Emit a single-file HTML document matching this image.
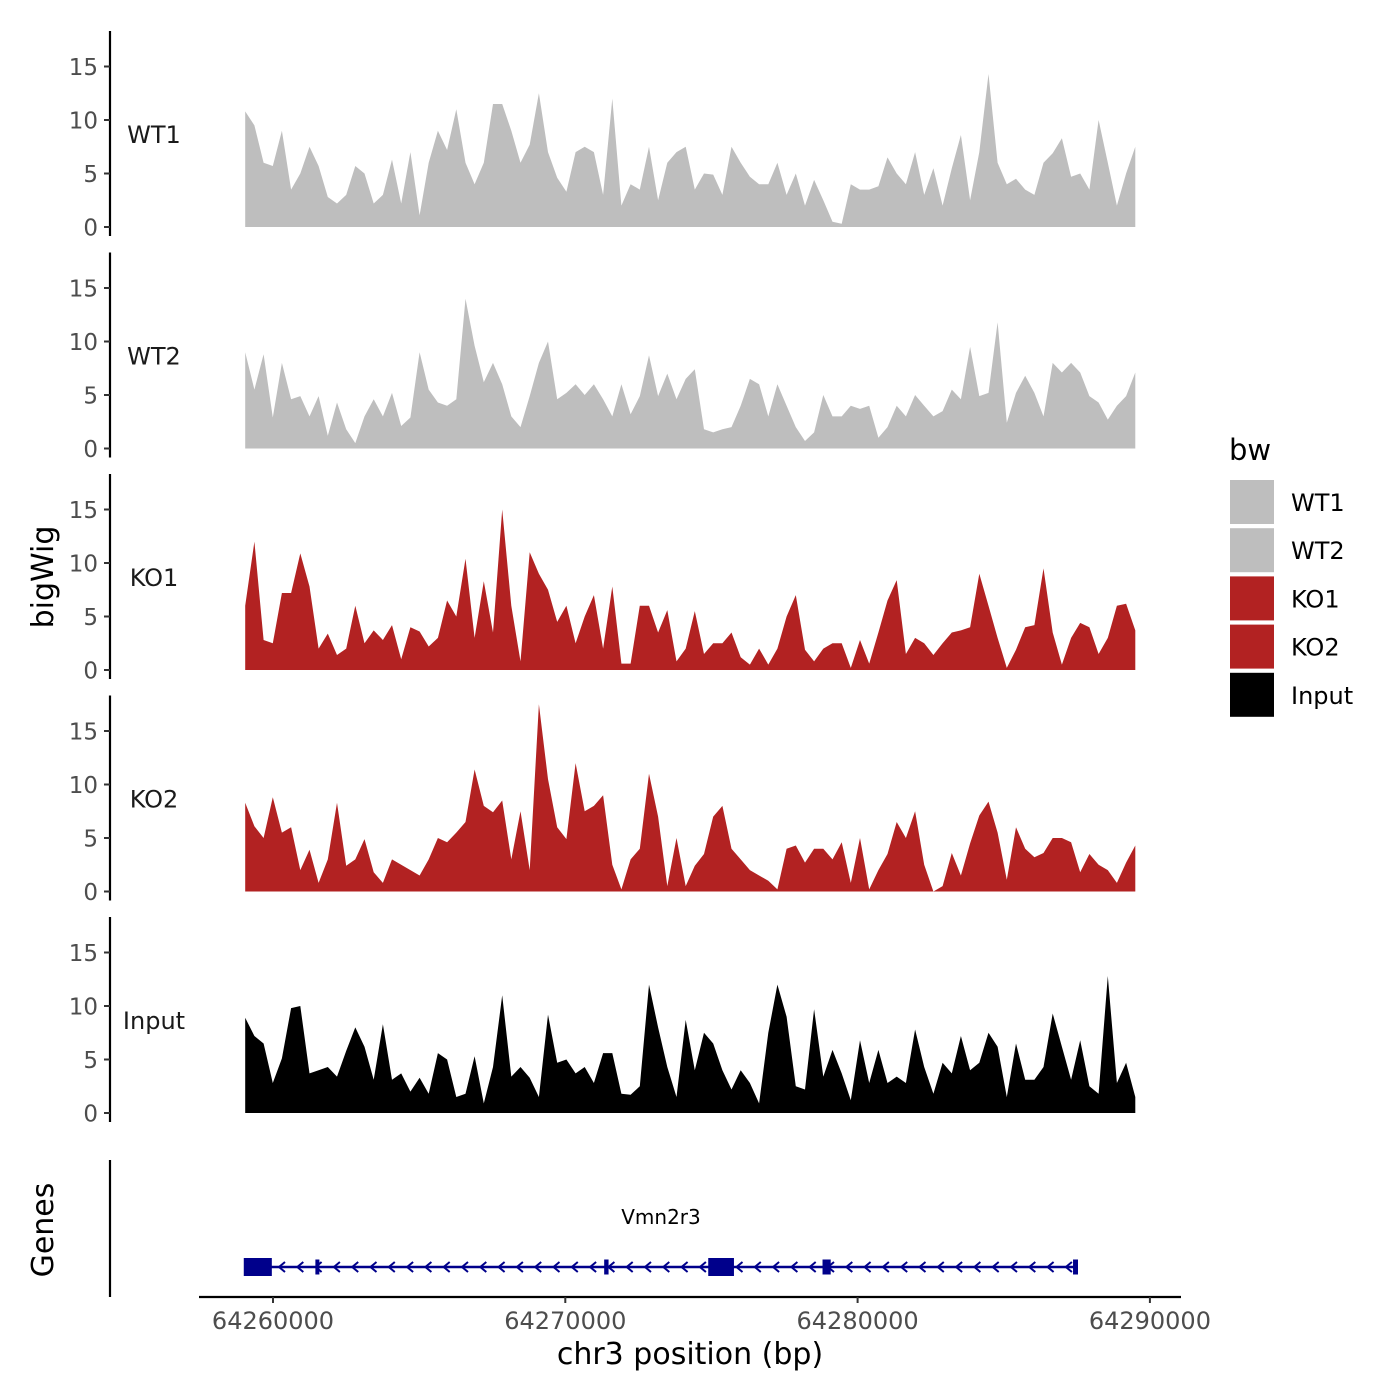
<!DOCTYPE html>
<html><head><meta charset="utf-8">
<style>
html,body{margin:0;padding:0;background:#fff;}
svg{display:block;font-family:"DejaVu Sans","Liberation Sans",sans-serif;}
</style></head>
<body>
<svg id="chart" width="1400" height="1400" viewBox="0 0 1400 1400" xmlns="http://www.w3.org/2000/svg">
<g id="tracks"></g>
<g id="genes"></g>
<g id="xaxis"></g>
<text x="0" y="0" transform="translate(53,577) rotate(-90)" text-anchor="middle" font-size="30" fill="#000">bigWig</text>
<text x="0" y="0" transform="translate(53,1230) rotate(-90)" text-anchor="middle" font-size="30" fill="#000">Genes</text>
<text x="690" y="1364" text-anchor="middle" font-size="30" fill="#000">chr3 position (bp)</text>
<g id="legend"></g>
</svg>
<script>
const trackNames = ["WT1","WT2","KO1","KO2","Input"];
const trackColors = ["#BEBEBE","#BEBEBE","#B22222","#B22222","#000000"];
const regionStart = 64259050;
const regionEnd = 64289500;
const yTicks = [0,5,10,15];
const xTicks = [64260000,64270000,64280000,64290000];
const xTickLabels = ["64260000","64270000","64280000","64290000"];
const wt1Values = [10.8,9.5,6,5.7,9,3.5,5,7.5,5.7,2.8,2.2,3,5.7,5,2.2,3,6.3,2.2,7,1.1,6,9,7.2,11,6,4,6,11.5,11.5,9,6,7.7,12.5,7,4.6,3.3,7,7.5,7,3,12,2,4,3.5,7.5,2.5,6,7,7.5,3.5,5,4.9,3,7.5,6,4.7,4,4,6,3,5,2,4.4,2.5,0.5,0.3,4,3.5,3.5,3.8,6.5,5,4,7,3,5.5,2,5.5,8.6,2.5,7,14.3,6,4,4.5,3.5,3,6,6.9,8.3,4.7,5,3.5,10,6,2,5,7.5];
const wt2Values = [9,5.5,8.8,2.9,8,4.6,4.9,3,4.9,1.2,4.3,1.8,0.5,3,4.6,3,5.2,2.1,2.9,9,5.5,4.3,4,4.6,14,9.6,6.2,8,6,3,2,4.9,8,10,4.6,5.2,6,5,6,4.6,3,6,3.2,4.9,8.7,4.9,7,4.6,6.5,7.4,1.8,1.5,1.8,2,4,6.5,6,3,6,4,2,0.7,1.5,5,3,3,4,3.7,4,1,2,4,3,5,4,3,3.5,5.5,4.6,9.5,4.9,5.2,11.8,2.4,5.2,6.8,5.2,3,8,7.1,8,7.1,4.9,4.3,2.7,4,4.9,7.1];
const ko1Values = [6,12,2.8,2.5,7.2,7.2,10.9,7.8,2,3.4,1.4,2,6,2.5,3.7,2.8,4.2,1,4,3.6,2.2,3,6.5,5,10.4,3,8.3,3.5,15,6,0.8,11,9,7.5,4.5,6,2.5,5,7,2,7.8,0.6,0.6,6,6,3.5,5.6,0.8,2,5.5,1.5,2.5,2.5,3.5,1.2,0.5,2,0.5,2,5,7,1.9,0.8,2,2.5,2.5,0.2,2.8,0.6,3.5,6.5,8.4,1.5,3,2.5,1.4,2.5,3.5,3.7,4,9,6,3,0.2,1.9,4,4.2,9.5,3.5,0.5,3,4.4,4,1.5,3,6,6.2,3.7];
const ko2Values = [8.3,6.1,5,8.8,5.5,6,2,3.9,0.8,3,8.3,2.4,3,4.9,1.8,0.8,3,2.5,2,1.5,3,5,4.6,5.5,6.5,11.4,8,7.4,8.5,3,7.5,2,17.5,10.5,6,4.9,12,7.5,8,9,2.5,0.2,3,4,11,7,0.5,5,0.5,2.4,3.5,7,8,4,3,2,1.5,1,0.2,4,4.3,2.7,4,4,3,4.6,0.8,5,0.2,2,3.5,6.5,5,7.5,2.5,0,0.5,3.6,1.5,4.5,7.1,8.4,5.5,1.1,6,4,3.2,3.6,5,5,4.6,1.8,3.5,2.5,2,0.8,2.7,4.3];
const inputValues = [8.9,7.2,6.5,2.8,5.1,9.8,10,3.7,4,4.3,3.4,5.8,8,6.2,3.1,8.3,3.1,3.7,2,3.3,1.8,5.6,5,1.5,1.8,5.3,0.9,4.3,11,3.4,4.3,3.3,1.5,9.2,4.7,5,3.7,4.3,2.8,5.6,5.6,1.8,1.7,2.5,12,8,4.3,1.5,8.7,4,7.5,6.5,4,2.2,4,2.8,0.9,7.5,12,9,2.5,2.2,9.7,3.4,5.9,3.7,1.2,6.8,2.8,5.9,2.8,3.4,2.8,7.8,4.3,1.8,4.7,3.7,7.2,4,4.7,7.5,6.2,1.5,6.5,3.1,3.1,4.3,9.3,6.2,3.1,6.8,2.5,1.8,12.8,2.8,4.7,1.5];
const trackValues = [wt1Values,wt2Values,ko1Values,ko2Values,inputValues];
const geneName = "Vmn2r3";
const geneStart = 64259042;
const geneEnd = 64287540;
const exonStarts = [64259000,64261450,64271330,64274890,64278800,64287370];
const exonEnds   = [64259960,64261560,64271480,64275770,64279080,64287540];
const exonThick  = [1,0,0,1,0,0];

const NS="http://www.w3.org/2000/svg";
function xs(bp){return 273 + (bp-64260000)/1000*29.23;}
const panelStep=221.5, unit=10.7;
function base(i){return 227 + i*panelStep;}
function ys(i,v){return base(i) - v*unit;}
function mk(tag,attrs,parent){const e=document.createElementNS(NS,tag);for(const k in attrs)e.setAttribute(k,attrs[k]);parent.appendChild(e);return e;}

const tracksG=document.getElementById('tracks');
trackValues.forEach((vals,i)=>{
  const g=mk('g',{},tracksG);
  
  
  const n=vals.length;
  let d='M'+xs(regionStart).toFixed(1)+','+base(i);
  vals.forEach((v,j)=>{const bp=regionStart+(regionEnd-regionStart)*j/(n-1);d+=' L'+xs(bp).toFixed(1)+','+ys(i,v).toFixed(1);});
  d+=' L'+xs(regionEnd).toFixed(1)+','+base(i)+' Z';
  const p=mk('path',{d:d,fill:trackColors[i],stroke:'none'},g);
  
  
  const ax=mk('line',{x1:110,x2:110,y1:base(i)-196,y2:base(i)+9,stroke:'#000','stroke-width':2.2},g);
  
  
  yTicks.forEach(t=>{
    const y=ys(i,t);
    const tk=mk('line',{x1:104,x2:110,y1:y,y2:y,stroke:'#333','stroke-width':2},g);
    
    
    const tl=mk('text',{x:98,y:y+8.5,'text-anchor':'end','font-size':23,fill:'#4d4d4d'},g);
    
    
    tl.textContent=t;
  });
  const lab=mk('text',{x:154,y:base(i)-84,'text-anchor':'middle','font-size':24,fill:'#1a1a1a'},g);
  
  
  lab.textContent=trackNames[i];
});

const gg=document.getElementById('genes');
const gax=mk('line',{x1:110,x2:110,y1:1160,y2:1297,stroke:'#000','stroke-width':2.2},gg);


const gy=1267, navy='#00008B';
const gl=mk('line',{x1:xs(geneStart),x2:xs(geneEnd),y1:gy,y2:gy,stroke:navy,'stroke-width':2.5},gg);


for(let x=xs(geneStart)+36;x<xs(geneEnd)-4;x+=18.3){
  const c=mk('path',{d:`M${x+4},${gy-5} L${x-2},${gy} L${x+4},${gy+5}`,fill:'none',stroke:navy,'stroke-width':2},gg);
  
  
}
exonStarts.forEach((s,k)=>{
  const h=exonThick[k]?18:15;
  const r=mk('rect',{x:xs(s),y:gy-h/2,width:Math.max(4,xs(exonEnds[k])-xs(s)),height:h,fill:navy},gg);
  
  
});
const gn=mk('text',{x:661,y:1224,'text-anchor':'middle','font-size':20,fill:'#000'},gg);


gn.textContent=geneName;

const xa=document.getElementById('xaxis');
const xl=mk('line',{x1:199,x2:1181,y1:1297,y2:1297,stroke:'#000','stroke-width':2.2},xa);


xTicks.forEach((t,k)=>{
  const x=xs(t);
  const tk=mk('line',{x1:x,x2:x,y1:1297,y2:1303,stroke:'#333','stroke-width':2},xa);
  
  
  const tl=mk('text',{x:x,y:1329,'text-anchor':'middle','font-size':24,fill:'#4d4d4d'},xa);
  
  
  tl.textContent=xTickLabels[k];
});

const lg=document.getElementById('legend');
const lt=mk('text',{x:1229,y:460,'font-size':29,fill:'#000'},lg);


lt.textContent='bw';
trackNames.forEach((n,i)=>{
  const y=480+i*48.2;
  const e=mk('g',{},lg);
  
  
  const r=mk('rect',{x:1230,y:y,width:44,height:44,fill:trackColors[i]},e);
  
  
  const t=mk('text',{x:1291,y:y+31,'font-size':24,fill:'#000'},e);
  
  
  t.textContent=n;
});
</script>
</body></html>
